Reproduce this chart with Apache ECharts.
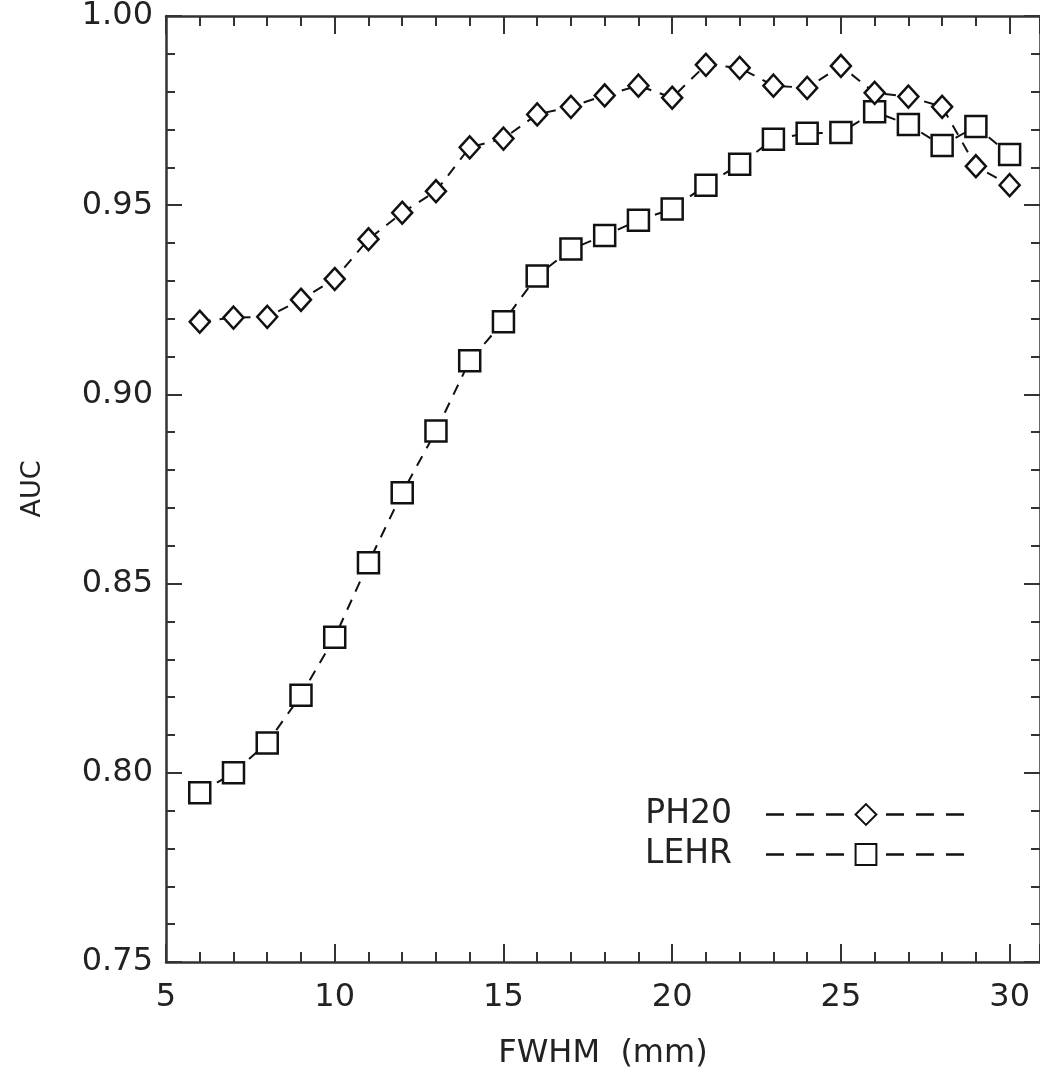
<!DOCTYPE html>
<html>
<head>
<meta charset="utf-8">
<script src="https://cdn.jsdelivr.net/npm/echarts@6/dist/echarts.min.js"></script>
<style>
  html, body { margin: 0; padding: 0; background: #fff; }
  #chart { width: 1040px; height: 1075px; }
</style>
</head>
<body>
<div id="chart"></div>
<script>
// FWHM values (mm)
const fwhm = [6, 7, 8, 9, 10, 11, 12, 13, 14, 15, 16, 17, 18, 19, 20, 21, 22, 23, 24, 25, 26, 27, 28, 29, 30];

// AUC
const ph20 = [0.9192, 0.9203, 0.9205, 0.925, 0.9305, 0.941, 0.948, 0.9537, 0.9653, 0.9676,
  0.974, 0.976, 0.979, 0.9816, 0.9784, 0.9871, 0.9863, 0.9816, 0.981, 0.9868,
  0.9797, 0.9787, 0.976, 0.9603, 0.9553];
const lehr = [0.7947, 0.8, 0.8079, 0.8205, 0.8358, 0.8555, 0.874, 0.8903, 0.9089, 0.9192,
  0.9313, 0.9384, 0.942, 0.946, 0.949, 0.9553, 0.9608, 0.9674, 0.969, 0.9692,
  0.9747, 0.9713, 0.9658, 0.9708, 0.9634];

const seriesNames = ['PH20', 'LEHR'];

function pairs(ys) {
  let out = [];
  for (let i = 0; i < fwhm.length; i++) {
    out.push([fwhm[i], ys[i]]);
  }
  return out;
}

const fontFamily = 'DejaVu Sans, Verdana, sans-serif';
const axisColor = '#333';

const chart = echarts.init(document.getElementById('chart'));

const xBase = {
  type: 'value',
  min: 5,
  max: 30.9,
  interval: 5,
  splitLine: { show: false },
  axisLine: { onZero: false, lineStyle: { color: axisColor, width: 2.5 } },
  axisTick: { inside: true, length: 18, lineStyle: { color: axisColor, width: 2 } },
  minorTick: { show: true, splitNumber: 5, length: 10, lineStyle: { color: axisColor, width: 2 } },
};

const yBase = {
  type: 'value',
  min: 0.75,
  max: 1.0,
  interval: 0.05,
  splitLine: { show: false },
  axisLine: { onZero: false, lineStyle: { color: axisColor, width: 2.5 } },
  axisTick: { inside: true, length: 16, lineStyle: { color: axisColor, width: 2 } },
  minorTick: { show: true, splitNumber: 5, length: 9, lineStyle: { color: axisColor, width: 2 } },
};

const options = {
  backgroundColor: '#fff',
  animation: false,
  grid: { left: 166, right: 0, top: 13, bottom: 112 },
  xAxis: [
    Object.assign({}, xBase, {
      position: 'bottom',
      name: 'FWHM  (mm)',
      nameLocation: 'middle',
      nameGap: 76,
      nameTextStyle: { fontFamily: fontFamily, fontSize: 32, color: '#222' },
      axisLabel: {
        fontFamily: fontFamily,
        fontSize: 32,
        color: '#222',
        margin: 20,
        showMaxLabel: false,
      },
    }),
    Object.assign({}, xBase, {
      position: 'top',
      axisLabel: { show: false },
    }),
  ],
  yAxis: [
    Object.assign({}, yBase, {
      position: 'left',
      name: 'AUC',
      nameLocation: 'middle',
      nameGap: 120,
      nameTextStyle: { fontFamily: fontFamily, fontSize: 27, color: '#222' },
      axisLabel: {
        fontFamily: fontFamily,
        fontSize: 32,
        color: '#222',
        margin: 13,
        formatter: function (v) {
          return v.toFixed(2);
        },
      },
    }),
    Object.assign({}, yBase, {
      position: 'right',
      axisLabel: { show: false },
    }),
  ],
  legend: {
    orient: 'vertical',
    left: 640,
    top: 793,
    align: 'right',
    itemWidth: 200,
    itemHeight: 26,
    itemGap: 7,
    lineStyle: { type: [18, 12], width: 2.5 },
    textStyle: {
      fontFamily: fontFamily,
      fontSize: 33,
      color: '#222',
      padding: [0, 29, 0, 0],
    },
    data: seriesNames,
  },
  series: [
    {
      name: seriesNames[0],
      type: 'line',
      data: pairs(ph20),
      symbol: 'diamond',
      symbolSize: [20, 22],
      lineStyle: { color: '#111', width: 2, type: [11, 9] },
      itemStyle: { color: '#fff', borderColor: '#111', borderWidth: 2.5 },
      z: 3,
    },
    {
      name: seriesNames[1],
      type: 'line',
      data: pairs(lehr),
      symbol: 'rect',
      symbolSize: 21,
      lineStyle: { color: '#111', width: 2, type: [11, 9] },
      itemStyle: { color: '#fff', borderColor: '#111', borderWidth: 2.5 },
      z: 2,
    },
  ],
};

chart.setOption(options);
</script>
</body>
</html>
